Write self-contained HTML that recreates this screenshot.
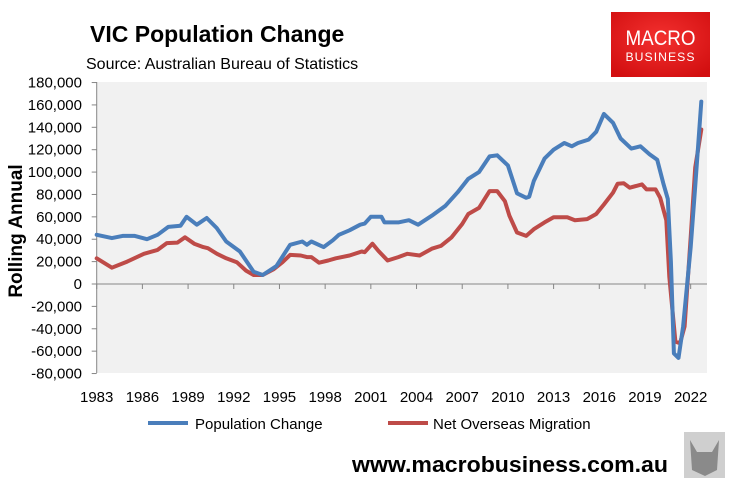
<!DOCTYPE html>
<html><head><meta charset="utf-8"><style>
body{margin:0;width:730px;height:483px;background:#fff;overflow:hidden;font-family:"Liberation Sans",sans-serif}
svg{display:block}
</style></head><body>
<svg id="chart" width="730" height="483" font-family="Liberation Sans, sans-serif">
<text x="90" y="42" font-size="23" font-weight="bold" fill="#000">VIC Population Change</text>
<text x="86" y="69" font-size="16" fill="#000">Source: Australian Bureau of Statistics</text>
<g>
<defs><radialGradient id="lg" cx="50%" cy="40%" r="70%"><stop offset="0" stop-color="#f3302f"/><stop offset="1" stop-color="#d20f10"/></radialGradient></defs>
<rect x="611" y="12" width="99" height="65" fill="url(#lg)"/>
<text x="660.5" y="45" font-size="21" fill="#fff" text-anchor="middle" textLength="70" lengthAdjust="spacingAndGlyphs">MACRO</text>
<text x="660.5" y="61" font-size="12" fill="#fff" text-anchor="middle" textLength="70" lengthAdjust="spacingAndGlyphs" letter-spacing="1">BUSINESS</text>
</g>
<rect x="97" y="82" width="610" height="291" fill="#f1f1f1"/>
<g id="axes"></g>
<g id="series"></g>
<text transform="translate(22,231) rotate(-90)" font-size="19" font-weight="bold" text-anchor="middle">Rolling Annual</text>
<g>
<g><line x1="148" y1="423" x2="188" y2="423" stroke="#4a7ebb" stroke-width="4"/><text x="195" y="429" font-size="15">Population Change</text></g>
<g><line x1="388" y1="423" x2="428" y2="423" stroke="#be4b48" stroke-width="4"/><text x="433" y="429" font-size="15">Net Overseas Migration</text></g>
</g>
<text x="352" y="472" font-size="22" font-weight="bold" textLength="316" lengthAdjust="spacingAndGlyphs">www.macrobusiness.com.au</text>
<g><rect x="684" y="432" width="41" height="46" fill="#cfcfcf"/><path d="M690 440 L697 452 L712 452 L719 440 L717 470 L705 476 L692 470 Z" fill="#8a8a8a"/></g>
</svg>
<script>
const yTicks=[180000,160000,140000,120000,100000,80000,60000,40000,20000,0,-20000,-40000,-60000,-80000];
const xTicks=[1983,1986,1989,1992,1995,1998,2001,2004,2007,2010,2013,2016,2019,2022];
const popYears=[1983.0,1984.0,1984.7,1985.5,1986.3,1987.0,1987.7,1988.5,1988.9,1989.57,1990.22,1990.88,1991.5,1992.4,1993.3,1993.9,1994.8,1995.7,1996.5,1996.8,1997.1,1997.9,1998.5,1998.9,1999.6,2000.3,2000.6,2001.0,2001.7,2001.9,2002.8,2003.5,2004.1,2005.0,2005.9,2006.7,2007.4,2008.1,2008.8,2009.3,2010.0,2010.6,2011.2,2011.4,2011.7,2012.4,2013.0,2013.7,2014.2,2014.6,2015.3,2015.8,2016.3,2016.9,2017.4,2018.1,2018.7,2019.3,2019.8,2020.2,2020.5,2020.7,2020.9,2021.2,2021.5,2022.0,2022.3,2022.7];
const popValues=[44,41,43,43,40,44,51,52,60,53,59,50,38,29,11,8,16,35,38,35,38,33,39,44,48,53,54,60,60,55,55,57,53,61,70,82,94,100,114,115,106,81,77,78,92,112,120,126,123,126,129,136,152,144,130,121,123,116,111,90,76,20,-62,-66,-38,33,87,163];
const nomYears=[1983.0,1984.0,1985.0,1986.1,1987.0,1987.6,1988.3,1988.8,1989.4,1990.0,1990.3,1990.9,1991.5,1992.2,1992.8,1993.3,1993.9,1994.6,1995.2,1995.7,1996.4,1996.8,1997.1,1997.6,1998.2,1998.7,1999.6,2000.4,2000.6,2001.1,2001.5,2002.1,2002.8,2003.4,2004.2,2005.0,2005.6,2006.3,2007.0,2007.4,2008.1,2008.8,2009.3,2009.8,2010.1,2010.6,2011.2,2011.7,2012.4,2013.0,2013.9,2014.4,2015.2,2015.8,2016.3,2016.9,2017.2,2017.6,2018.0,2018.8,2019.1,2019.7,2020.0,2020.4,2020.6,2021.0,2021.3,2021.6,2022.0,2022.3,2022.7];
const nomValues=[23,14.6,20,27,30.5,36.5,37,41.7,36,33,32,27,23,19.5,12,8,8,13,19.5,26,25.5,24,24,19,21,23,25.5,29,28.4,36,29.5,21,24,27,25.5,31.5,34,41.7,53.6,62.5,68,83,83,74,61,46,43,49,55,59.6,59.6,57,58,62.5,71,81.6,89.5,90,86,89,84.5,84.5,77,57,6.5,-51.5,-53,-38,42,104,138];
const NS='http://www.w3.org/2000/svg';
const X0=96.7,PXY=15.23,Y0=284,PXV=291/260000;
function xs(yr){return X0+(yr-1983)*PXY;}
function ys(v){return Y0-v*PXV;}
const axes=document.getElementById('axes');
function mk(tag,attrs,parent){const e=document.createElementNS(NS,tag);for(const k in attrs)e.setAttribute(k,attrs[k]);parent.appendChild(e);return e;}
const yl=mk('line',{x1:X0,y1:82,x2:X0,y2:373,stroke:'#868686','stroke-width':1},axes);


yTicks.forEach(v=>{
 const t=mk('line',{x1:X0-5,y1:ys(v),x2:X0,y2:ys(v),stroke:'#868686'},axes);
 
 
 const l=mk('text',{x:82,y:ys(v)+5,'font-size':15,'text-anchor':'end',fill:'#000'},axes);
 l.textContent=v.toLocaleString('en-US');
 
 
});
const xl=mk('line',{x1:X0,y1:Y0,x2:707,y2:Y0,stroke:'#868686','stroke-width':1},axes);


xTicks.forEach(yr=>{
 const t=mk('line',{x1:xs(yr),y1:Y0,x2:xs(yr),y2:Y0+5,stroke:'#868686'},axes);
 
 
 const l=mk('text',{x:xs(yr),y:402,'font-size':15,'text-anchor':'middle',fill:'#000'},axes);
 l.textContent=yr;
 
 
});
const series=document.getElementById('series');
function line(years,vals,color,name){
 const d=years.map((y,i)=>(i?'L':'M')+xs(y).toFixed(1)+' '+ys(vals[i]*1000).toFixed(1)).join(' ');
 const p=mk('path',{d:d,fill:'none',stroke:color,'stroke-width':4,'stroke-linejoin':'round','stroke-linecap':'round'},series);
 
 
}
line(nomYears,nomValues,'#be4b48','net-overseas-migration-line');
line(popYears,popValues,'#4a7ebb','population-change-line');
</script>
</body></html>
